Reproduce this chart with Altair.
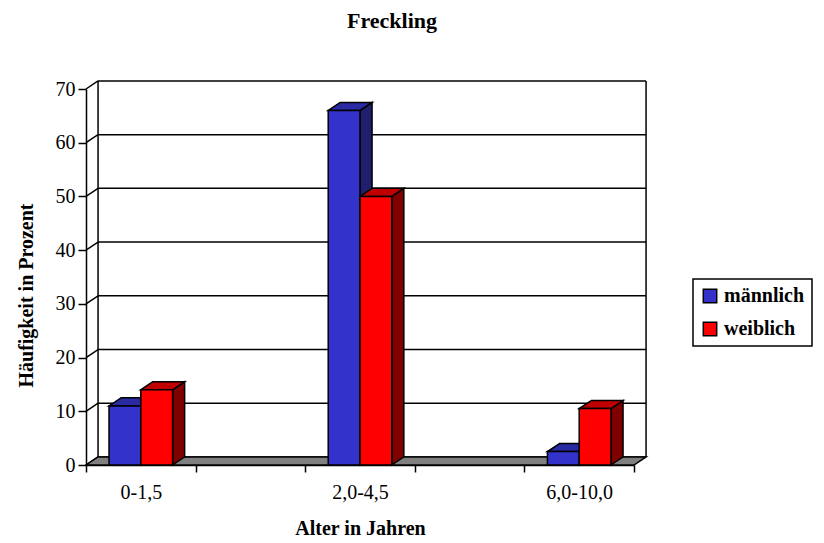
import json
import altair as alt
import pandas as pd

# ---------------- data ----------------
categories = ["0-1,5", "", "2,0-4,5", "", "6,0-10,0"]
maennlich = [11, None, 66, None, 2.5]
weiblich = [14, None, 50, None, 10.5]
series_names = ["männlich", "weiblich"]
y_ticks = [0, 10, 20, 30, 40, 50, 60, 70]
x_ticks = [0, 1, 2, 3, 4, 5]

# ---------------- style ----------------
front_colors = ["#3333CC", "#FF0000"]
top_colors = ["#2A2AA3", "#C00000"]
side_colors = ["#1F1F6E", "#800000"]
FONT = "Liberation Serif"

N = len(categories)
YMAX = 70
BAR_W = 0.29      # bar width in category units
DX = 0.11         # 3-D depth, horizontal (category units)
DY = 1.5          # 3-D depth, vertical (value units)
W, H = 548, 376

xs = alt.Scale(domain=[0, N], nice=False, zero=False)
ys = alt.Scale(domain=[0, YMAX], nice=False, zero=False)

# ---------------- derived tables ----------------
front_rows, side_rows, top_rows = [], [], []
for s_idx, (name, vals) in enumerate(zip(series_names, [maennlich, weiblich])):
    for i, v in enumerate(vals):
        if v is None:
            continue
        x0 = i + 0.5 - BAR_W if s_idx == 0 else i + 0.5
        x1 = x0 + BAR_W
        bid = f"{s_idx}-{i}"
        front_rows.append(dict(series=name, x0=x0, x1=x1, y0=0, y1=v))
        side_rows += [
            dict(bar=bid, x=x1, y=0, y2=v, fill=side_colors[s_idx]),
            dict(bar=bid, x=x1 + DX, y=DY, y2=v + DY, fill=side_colors[s_idx]),
        ]
        top_rows += [
            dict(bar=bid, y=v, x=x0, x2=x1, fill=top_colors[s_idx]),
            dict(bar=bid, y=v + DY, x=x0 + DX, x2=x1 + DX, fill=top_colors[s_idx]),
        ]

front_df = pd.DataFrame(front_rows)
side_df = pd.DataFrame(side_rows)
top_df = pd.DataFrame(top_rows)
floor_df = pd.DataFrame([dict(y=0, x=0, x2=N), dict(y=DY, x=DX, x2=N + DX)])
grid_df = pd.DataFrame([dict(x=DX, x2=N + DX, y=t + DY) for t in y_ticks])
diag_df = pd.DataFrame([dict(x=0, x2=DX, y=t, y2=t + DY) for t in y_ticks])
edge_df = pd.DataFrame([dict(x=DX, y=DY, y2=YMAX + DY), dict(x=N + DX, y=DY, y2=YMAX + DY)])

label_expr = "datum.value < %d ? %s[datum.value] : ''" % (N, json.dumps(categories, ensure_ascii=False))

x_axis = alt.Axis(
    values=x_ticks, labelExpr=label_expr, labelOffset=W / N / 2,
    title="Alter in Jahren", grid=False, domainColor="black", domainWidth=1.5,
    tickColor="black", tickWidth=1.5, tickSize=7, labelPadding=10,
    labelFont=FONT, labelFontSize=20, labelColor="black", labelOverlap=False,
    labelFlush=False, titleFont=FONT, titleFontSize=20, titleFontWeight="bold",
    titleColor="black", titleY=63, titleBaseline="middle",
)
y_axis = alt.Axis(
    values=y_ticks, title="Häufigkeit in Prozent", grid=False,
    domainColor="black", domainWidth=1.5, tickColor="black", tickWidth=1.5,
    tickSize=8, labelPadding=3, labelFont=FONT, labelFontSize=20,
    labelColor="black", titleFont=FONT, titleFontSize=20,
    titleFontWeight="bold", titleColor="black", titleAngle=270,
    titleX=-60, titleY=206, titleBaseline="middle", titleAlign="center",
)


def X(field):
    return alt.X(field, scale=xs, axis=x_axis)


def Y(field):
    return alt.Y(field, scale=ys, axis=y_axis)


grid = alt.Chart(grid_df).mark_rule(color="black", strokeWidth=1.5).encode(
    x=X("x:Q"), x2="x2:Q", y=Y("y:Q"),
)
diag = alt.Chart(diag_df).mark_rule(color="black", strokeWidth=1.5).encode(
    x=X("x:Q"), x2="x2:Q", y=Y("y:Q"), y2="y2:Q",
)
edges = alt.Chart(edge_df).mark_rule(color="black", strokeWidth=1.5).encode(
    x=X("x:Q"), y=Y("y:Q"), y2="y2:Q",
)
floor = alt.Chart(floor_df).mark_area(
    orient="horizontal", fill="#808080", stroke="black", strokeWidth=1.5
).encode(
    y=Y("y:Q"), x=X("x:Q"), x2="x2:Q",
)
sides = alt.Chart(side_df).mark_area(
    orient="vertical", stroke="black", strokeWidth=1.5, fillOpacity=1
).encode(
    x=X("x:Q"), y=Y("y:Q"), y2="y2:Q",
    detail="bar:N",
    fill=alt.Fill("fill:N", scale=None),
)
tops = alt.Chart(top_df).mark_area(
    orient="horizontal", stroke="black", strokeWidth=1.5, fillOpacity=1
).encode(
    y=Y("y:Q"), x=X("x:Q"), x2="x2:Q",
    detail="bar:N",
    fill=alt.Fill("fill:N", scale=None),
)
fronts = alt.Chart(front_df).mark_rect(stroke="black", strokeWidth=1.5, opacity=1).encode(
    x=X("x0:Q"), x2="x1:Q", y=Y("y0:Q"), y2="y1:Q",
    color=alt.Color(
        "series:N",
        scale=alt.Scale(domain=series_names, range=front_colors),
        legend=alt.Legend(
            title=None, orient="none", legendX=607, legendY=190,
            strokeColor="black", fillColor="white",
            padding=7, symbolType="square", symbolSize=180,
            symbolStrokeColor="black", symbolStrokeWidth=1.5,
            labelFont=FONT, labelFontSize=20,
            labelFontWeight="bold", labelColor="black", labelOffset=4,
            rowPadding=13, labelLimit=300,
        ),
    ),
)

chart = alt.layer(grid, diag, edges, floor, sides, tops, fronts).properties(
    width=W, height=H,
    background="white",
    title=alt.TitleParams(
        "Freckling", font=FONT, fontSize=22, fontWeight="bold", color="black",
        anchor="middle", frame="group", dx=32, offset=46,
    ),
    autosize=alt.AutoSizeParams(type="none"),
    padding={"left": 86, "top": 89, "right": 190, "bottom": 78},
).configure_view(stroke=None).configure_legend(strokeWidth=1.5)

chart.save("out.html", embed_options={"renderer": "svg", "actions": False})
